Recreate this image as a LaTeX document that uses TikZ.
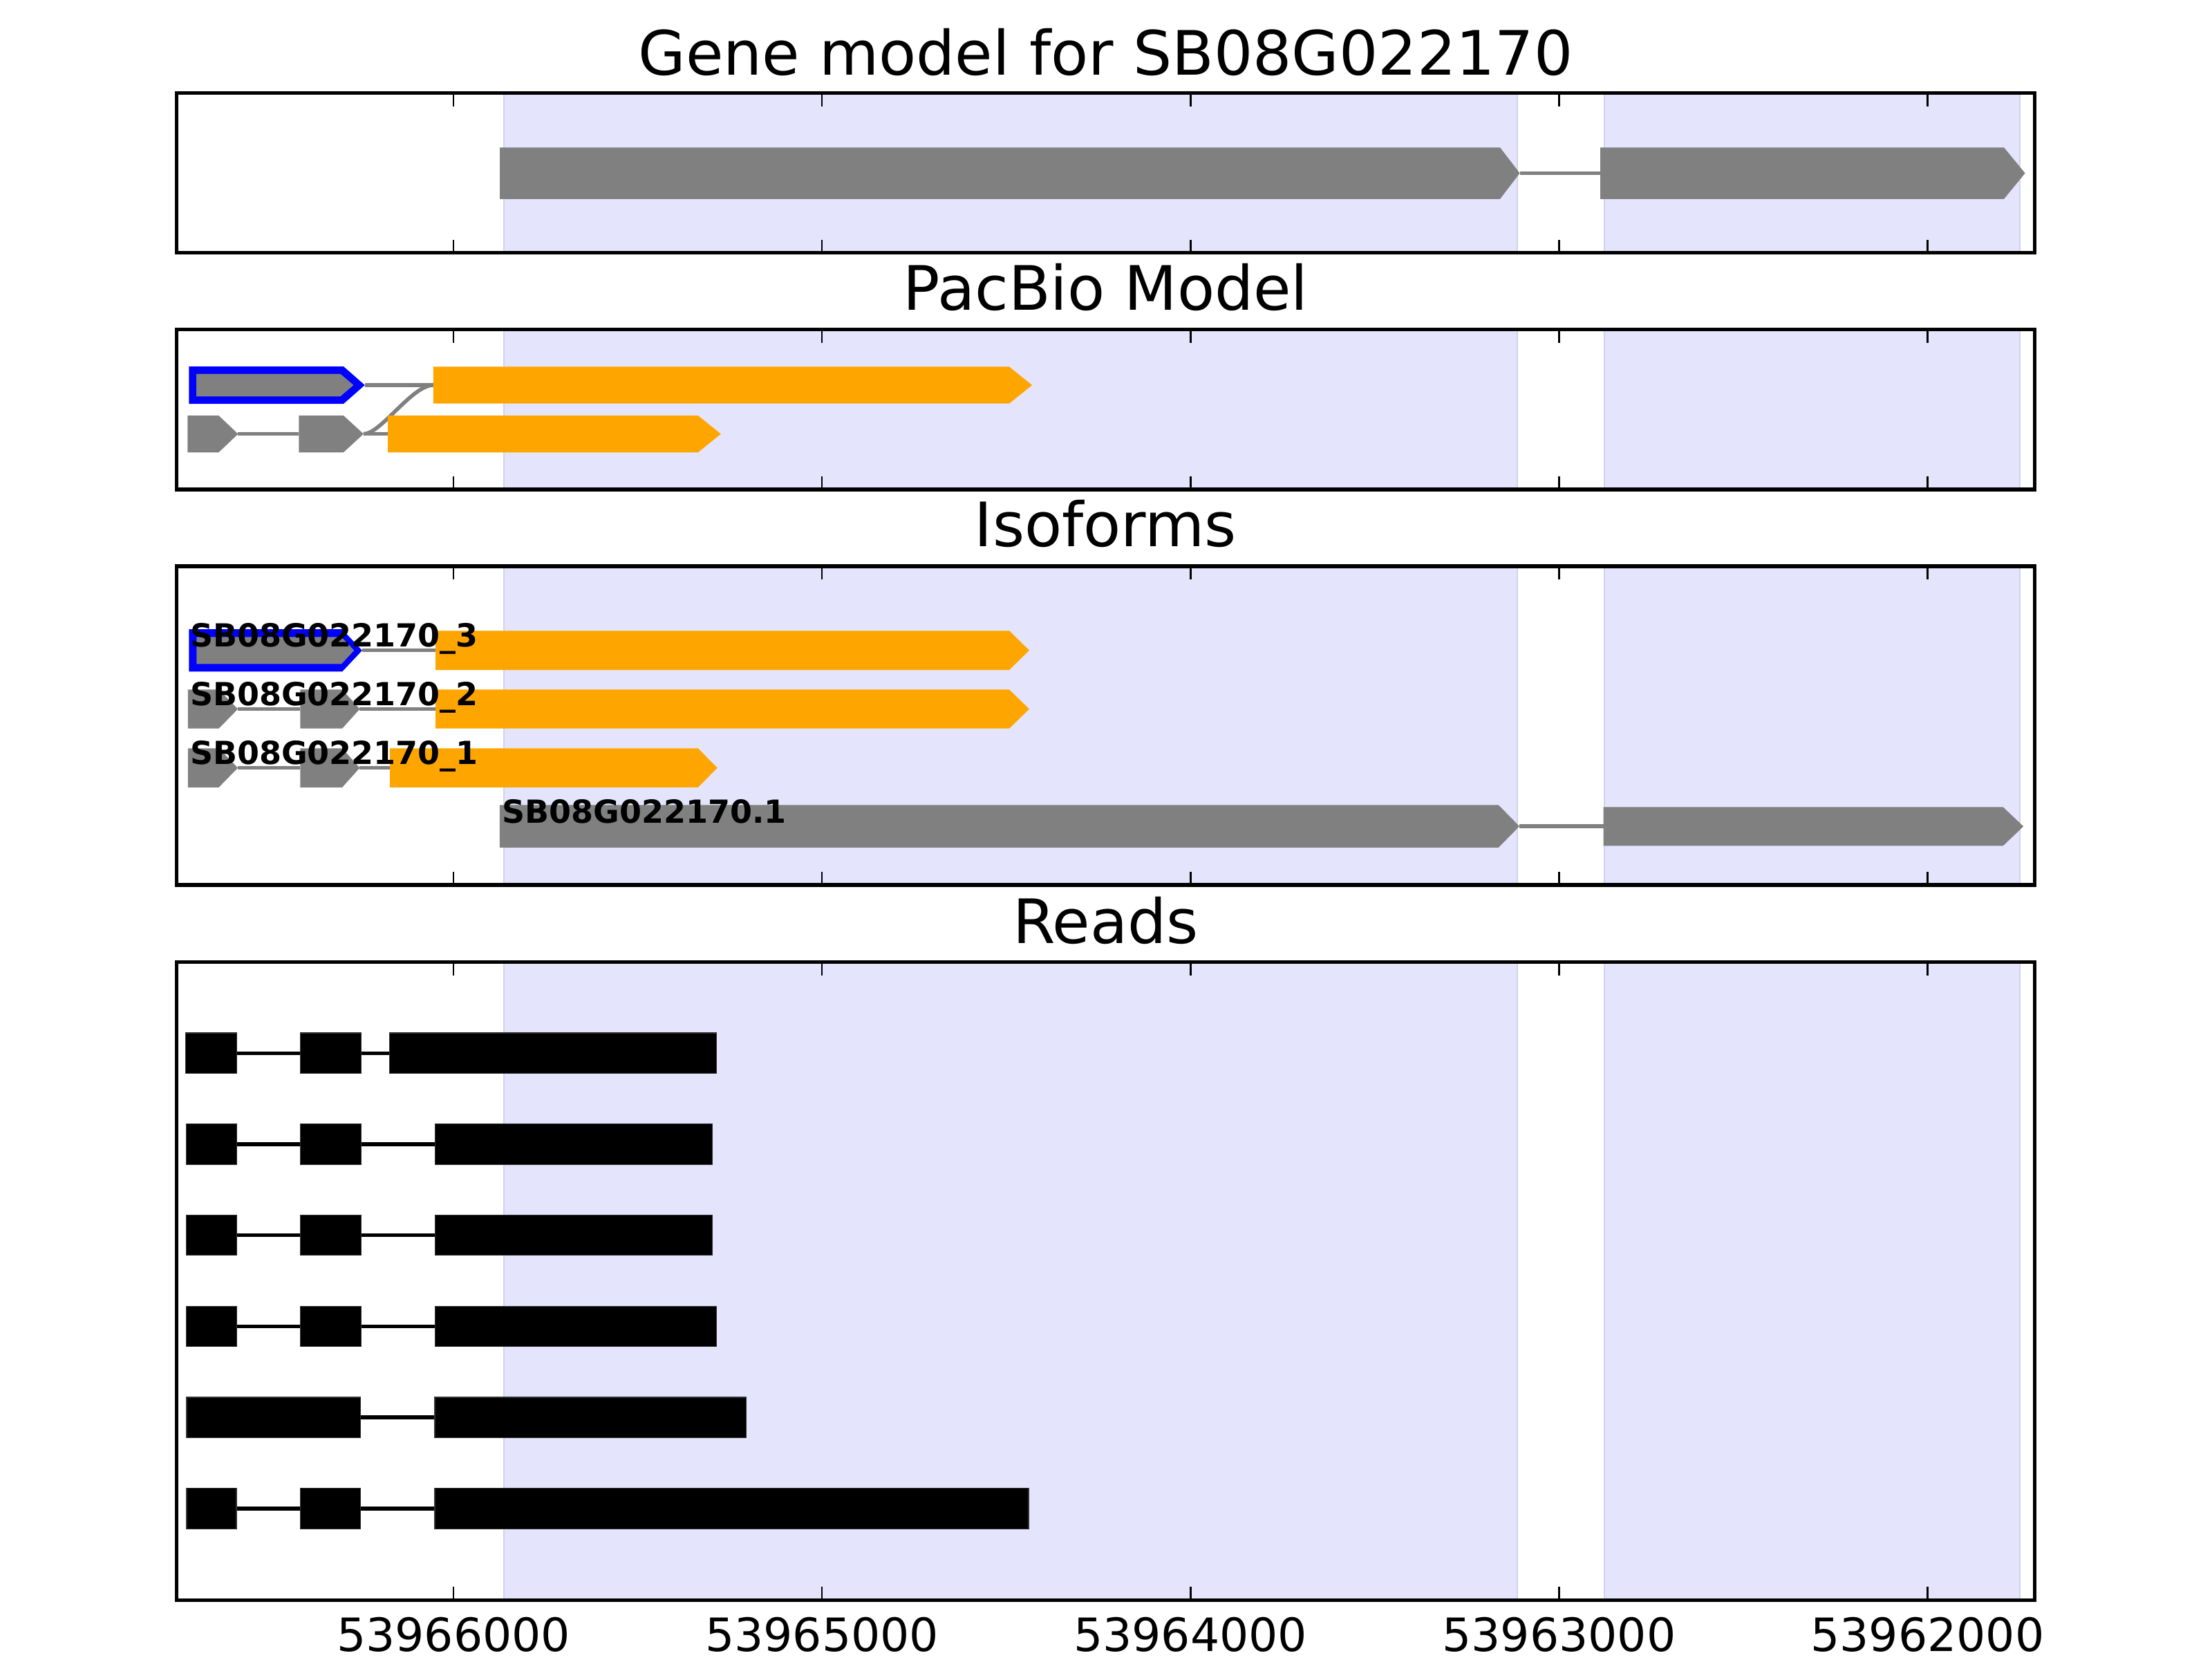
\documentclass[tikz,border=0pt]{standalone}
\usepackage{fontspec}
\setmainfont{DejaVu Sans}
\definecolor{gfill}{HTML}{808080}
\definecolor{ofill}{HTML}{FFA500}
\definecolor{bfill}{HTML}{0000FF}
\definecolor{bandfill}{HTML}{E4E4FD}
\definecolor{bandedge}{HTML}{D2D2EA}
\tikzset{
  frame/.style={draw=black, line width=0.92pt},
  tickmark/.style={draw=black, line width=0.45pt},
  intron/.style={draw=gfill, line width=1.0pt},
  readline/.style={draw=black, line width=1.0pt},
  exon/.style={fill=gfill},
  cds/.style={fill=ofill},
  pick/.style={fill=bfill},
  band/.style={fill=bandfill},
  bandline/.style={draw=bandedge, line width=0.4pt},
  readblock/.style={fill=black, draw=black!80, line width=0.2pt},
  paneltitle/.style={font=\fontsize{16}{19}\selectfont, anchor=base, inner sep=0pt},
  ticklabel/.style={font=\fontsize{12}{14}\selectfont, anchor=base, inner sep=0pt},
  isolabel/.style={font=\fontsize{8.3}{10}\selectfont\bfseries, anchor=base west, inner sep=0pt},
}
% feature arrow: style, x start, x shoulder, x tip, y top, y bottom
\newcommand{\farrow}[6]{\fill[#1] (#2,#5) -- (#3,#5) -- (#4,{(#5+#6)/2}) -- (#3,#6) -- (#2,#6) -- cycle;}
% read block: x0, x1, y centre
\newcommand{\rblock}[3]{\path[readblock] (#1,{#3-14.35}) rectangle (#2,{#3+14.35});}
\newcommand{\panelbg}[2]{%
  \path[band] (357.3,#1) rectangle (1075.4,#2);
  \path[band] (1137.4,#1) rectangle (1431.8,#2);
  \foreach \sx in {357.3,1075.4,1137.4,1431.8} {\path[bandline] (\sx,#1) -- (\sx,#2);}
}
\newcommand{\panelfg}[2]{%
  \foreach \tx in {321.5,582.7,843.9,1105.1,1366.3} {
    \draw[tickmark] (\tx,#1) -- ++(0,9.3);
    \draw[tickmark] (\tx,#2) -- ++(0,-9.3);
  }
  \draw[frame] (125.2,#1) rectangle (1442.3,#2);
}
\begin{document}
\begin{tikzpicture}[x=0.36872pt,y=-0.36872pt]
\path[use as bounding box] (0,0) rectangle (1568,1176);

% ---------- Panel 1: Gene model ----------
\node[paneltitle] (t1) at (783.75,53.1) {Gene model for SB08G022170};
\panelbg{66}{179.3}
\farrow{exon}{354.3}{1063.3}{1077.3}{104.5}{141}
\draw[intron] (1077.3,122.75) -- (1134.4,122.75);
\farrow{exon}{1134.4}{1420.5}{1435.5}{104.5}{141}
\panelfg{66}{179.3}

% ---------- Panel 2: PacBio Model ----------
\node[paneltitle] (t2) at (783.75,219.7) {PacBio Model};
\panelbg{233.6}{346.9}
\draw[intron] (257.7,307.55) .. controls (270,307.55) and (292,272.95) .. (307.2,272.95);
\farrow{pick}{133.9}{243.5}{258.6}{259.7}{286.2}
\farrow{exon}{139.2}{241.3}{250.6}{265}{280.9}
\draw[intron] (258.6,272.95) -- (307.2,272.95);
\farrow{cds}{307.2}{715.4}{731.6}{259.9}{286}
\farrow{exon}{133}{155}{168.8}{294.5}{320.6}
\draw[intron] (168.8,307.55) -- (211.9,307.55);
\farrow{exon}{211.9}{243.5}{257.7}{294.5}{320.6}
\draw[intron] (257.7,307.55) -- (274.9,307.55);
\farrow{cds}{274.9}{494.8}{511}{294.5}{320.6}
\panelfg{233.6}{346.9}

% ---------- Panel 3: Isoforms ----------
\node[paneltitle] (t3) at (783.75,387.4) {Isoforms};
\panelbg{401.3}{627.2}
% _3
\farrow{pick}{133.9}{242.6}{256.7}{446}{476}
\farrow{exon}{139.3}{242}{251}{451.4}{470.6}
\draw[intron] (256.7,460.9) -- (308.8,460.9);
\farrow{cds}{308.8}{715.4}{729.6}{447}{474.8}
% _2
\farrow{exon}{133.2}{155.1}{168.6}{488.7}{516.3}
\draw[intron] (168.6,502.5) -- (212.9,502.5);
\farrow{exon}{212.9}{242.6}{255}{488.7}{516.3}
\draw[intron] (255,502.5) -- (308.8,502.5);
\farrow{cds}{308.8}{715.4}{729.6}{488.7}{516.3}
% _1
\farrow{exon}{133.2}{155.1}{168.6}{530.4}{558}
\draw[intron] (168.6,544.2) -- (212.9,544.2);
\farrow{exon}{212.9}{242.6}{255}{530.4}{558}
\draw[intron] (255,544.2) -- (276.4,544.2);
\farrow{cds}{276.4}{494.8}{508.5}{530.4}{558}
% .1
\farrow{exon}{354.2}{1062.2}{1077}{570.5}{600.7}
\draw[intron] (1077,585.6) -- (1136.6,585.6);
\farrow{exon}{1136.6}{1419.9}{1434.3}{572}{599.4}
\node[isolabel] (l3) at (134.3,458.2) {SB08G022170\_3};
\node[isolabel] (l2) at (134.3,499.8) {SB08G022170\_2};
\node[isolabel] (l1) at (134.3,541.5) {SB08G022170\_1};
\node[isolabel] (l0) at (355.5,583.1) {SB08G022170.1};
\panelfg{401.3}{627.2}

% ---------- Panel 4: Reads ----------
\node[paneltitle] (t4) at (783.75,668.4) {Reads};
\panelbg{681.9}{1133.9}
% read 1
\draw[readline] (167.7,746.4) -- (276.3,746.4);
\rblock{131.7}{167.7}{746.4}\rblock{213}{256}{746.4}\rblock{276.3}{508}{746.4}
% read 2
\draw[readline] (167.7,811) -- (308.3,811);
\rblock{132}{167.7}{811}\rblock{213}{256}{811}\rblock{308.3}{505}{811}
% read 3
\draw[readline] (167.7,875.4) -- (308.3,875.4);
\rblock{132}{167.7}{875.4}\rblock{213}{256}{875.4}\rblock{308.3}{505}{875.4}
% read 4
\draw[readline] (167.7,940) -- (308.3,940);
\rblock{132}{167.7}{940}\rblock{213}{256}{940}\rblock{308.3}{508}{940}
% read 5
\draw[readline] (255.7,1004.6) -- (308.2,1004.6);
\rblock{132.3}{255.7}{1004.6}\rblock{308.2}{528.8}{1004.6}
% read 6
\draw[readline] (167.6,1069.1) -- (308.2,1069.1);
\rblock{132.3}{167.6}{1069.1}\rblock{212.7}{255.7}{1069.1}\rblock{308.2}{729.1}{1069.1}
\panelfg{681.9}{1133.9}

% ---------- axis labels ----------
\node[ticklabel] (x1) at (321.5,1170.3) {53966000};
\node[ticklabel] (x2) at (582.7,1170.3) {53965000};
\node[ticklabel] (x3) at (843.9,1170.3) {53964000};
\node[ticklabel] (x4) at (1105.1,1170.3) {53963000};
\node[ticklabel] (x5) at (1366.3,1170.3) {53962000};
\end{tikzpicture}
\end{document}
